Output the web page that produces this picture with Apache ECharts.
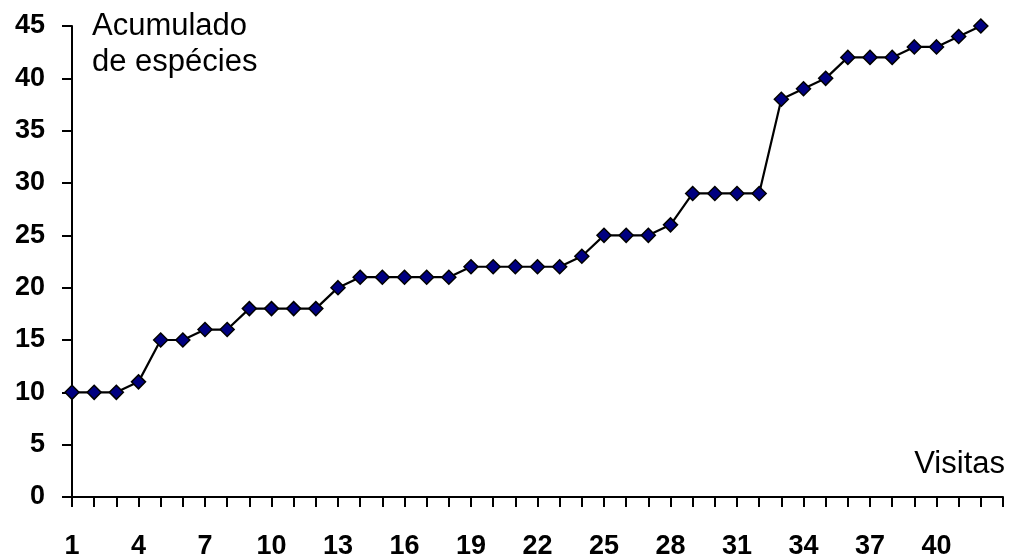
<!DOCTYPE html>
<html>
<head>
<meta charset="utf-8">
<script src="https://cdn.jsdelivr.net/npm/echarts@6/dist/echarts.min.js"></script>
<style>
html,body{margin:0;padding:0;background:#fff;}
#chart{width:1009px;height:560px;}
</style>
</head>
<body>
<div id="chart"></div>
<script>
// Categories (visits); the axis extends one slot past the last visit
const visitas = ['1','2','3','4','5','6','7','8','9','10','11','12','13','14','15','16','17','18','19','20','21','22','23','24','25','26','27','28','29','30','31','32','33','34','35','36','37','38','39','40','41','42',''];
// Cumulative species count
const acumulado = [10,10,10,11,15,15,16,16,18,18,18,18,20,21,21,21,21,21,22,22,22,22,22,23,25,25,25,26,29,29,29,29,38,39,40,42,42,42,43,43,44,45];
const yTicks = {min:0, max:45, interval:5};
const yTitle = 'Acumulado\nde espécies';
const xTitle = 'Visitas';

const chart = echarts.init(document.getElementById('chart'), null, {renderer:'canvas'});
const font = 'Liberation Sans, Arial, sans-serif';
chart.setOption({
  animation:false,
  backgroundColor:'#ffffff',
  grid:{left:72, right:6, top:26, bottom:62, containLabel:false},
  xAxis:{
    type:'category',
    data:visitas,
    boundaryGap:false,
    axisLine:{lineStyle:{color:'#000',width:2}},
    axisTick:{show:true, interval:0, length:10, lineStyle:{color:'#000',width:2}},
    axisLabel:{interval:2, margin:36, color:'#000', fontFamily:font, fontWeight:'bold', fontSize:27},
    splitLine:{show:false}
  },
  yAxis:{
    type:'value',
    min:yTicks.min, max:yTicks.max, interval:yTicks.interval,
    axisLine:{show:true, lineStyle:{color:'#000',width:2}},
    axisTick:{show:true, length:10, lineStyle:{color:'#000',width:2}},
    axisLabel:{margin:27, color:'#000', fontFamily:font, fontWeight:'bold', fontSize:27},
    splitLine:{show:false}
  },
  graphic:[
    {type:'text', left:92, top:8, style:{text:yTitle, font:'31px '+font, fill:'#000', lineHeight:36}},
    {type:'text', right:4, top:449, style:{text:xTitle, font:'31px '+font, fill:'#000'}}
  ],
  series:[{
    type:'line',
    data:acumulado,
    symbol:'diamond',
    symbolSize:14,
    showAllSymbol:true,
    lineStyle:{color:'#000',width:2.2},
    itemStyle:{color:'#000080', borderColor:'#000', borderWidth:1.5}
  }]
});
</script>
</body>
</html>
